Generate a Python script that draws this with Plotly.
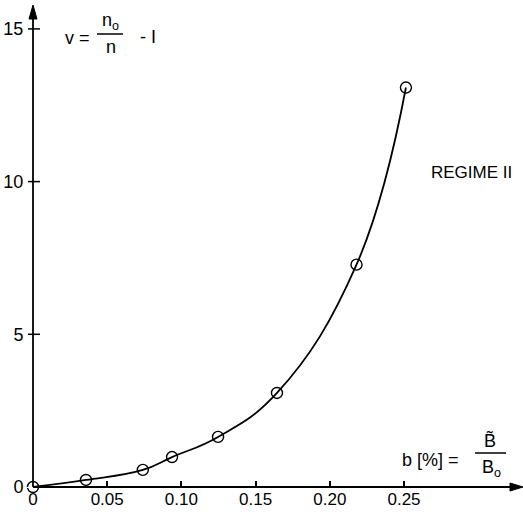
import plotly.graph_objects as go

# data
b_vals = [0.0, 0.0357, 0.074, 0.0937, 0.1247, 0.1644, 0.218, 0.2513]
v_vals = [0.0, 0.23, 0.56, 0.98, 1.64, 3.08, 7.28, 13.08]
x_ticks = [0, 0.05, 0.10, 0.15, 0.20, 0.25]
x_tick_text = ["0", "0.05", "0.10", "0.15", "0.20", "0.25"]
y_ticks = [0, 5, 10, 15]
y_tick_text = ["0", "5", "10", "15"]

W, H = 523, 517
ML, MR, MT, MB = 33, 4, 10, 30
PW, PH = W - ML - MR, H - MT - MB
XPX = 1484.0   # px per unit b
YPX = 30.54    # px per unit v
xmax = PW / XPX
ymax = PH / YPX

def pp(x, y):
    # pixel -> paper coordinates
    return (x - ML) / PW, (H - MB - y) / PH

FONT = "Liberation Sans Narrow, Liberation Sans, Arial"
fig = go.Figure()
fig.add_trace(go.Scatter(
    x=b_vals, y=v_vals, mode="lines+markers",
    line=dict(color="black", width=1.8, shape="spline", smoothing=1.2),
    marker=dict(symbol="circle-open", size=11, color="black", line=dict(width=1.4)),
    showlegend=False, cliponaxis=False))

anns = []
def txt(x, y, s, size=18):
    xx, yy = pp(x, y)
    anns.append(dict(x=xx, y=yy, xref="paper", yref="paper", text=s, showarrow=False,
                     xanchor="center", yanchor="middle",
                     font=dict(family=FONT, size=size, color="black")))

# formula top
txt(77, 38, "v =")
txt(110, 22, "n<sub>o</sub>")
txt(111, 47, "n")
txt(148, 37, "- I")
# formula bottom right
txt(430, 460, "b [%] =")
txt(490, 440, "B&#771;")
txt(491, 468, "B<sub>o</sub>")
txt(471, 173, "REGIME II", size=17)

shapes = []
def seg(xa, ya, xb, yb, w=1.5):
    x0, y0 = pp(xa, ya); x1, y1 = pp(xb, yb)
    shapes.append(dict(type="line", xref="paper", yref="paper", x0=x0, x1=x1, y0=y0, y1=y1,
                       line=dict(color="black", width=w)))
def tri(pts):
    p = [pp(a, b) for a, b in pts]
    path = "M {} {} L {} {} L {} {} Z".format(p[0][0], p[0][1], p[1][0], p[1][1], p[2][0], p[2][1])
    shapes.append(dict(type="path", xref="paper", yref="paper", path=path,
                       fillcolor="black", line=dict(color="black", width=1)))

seg(97, 34, 123, 34)
seg(475, 453, 506, 453)
# axes with arrowheads
seg(33, 487, 512, 487, 1.8)
seg(33, 487, 33, 18, 1.8)
tri([(523, 487), (510, 483), (510, 491)])
tri([(33, 5), (29, 19), (37, 19)])
# y ticks crossing the axis
for yv in y_ticks[1:]:
    ypix = 487 - yv * YPX
    seg(28, ypix, 40, ypix, 1.5)

fig.update_layout(
    width=W, height=H, margin=dict(l=ML, r=MR, t=MT, b=MB),
    paper_bgcolor="white", plot_bgcolor="white",
    annotations=anns, shapes=shapes,
    xaxis=dict(range=[0, xmax], tickvals=x_ticks, ticktext=x_tick_text, showgrid=False,
               zeroline=False, showline=False, ticks="inside", ticklen=6, tickwidth=1.5,
               tickcolor="black", tickfont=dict(family=FONT, size=17, color="black")),
    yaxis=dict(range=[0, ymax], tickvals=y_ticks, ticktext=y_tick_text, showgrid=False,
               zeroline=False, showline=False, ticks="outside", ticklen=5, tickwidth=0,
               tickcolor="white", tickfont=dict(family=FONT, size=18, color="black")),
)
fig.write_html("out.html")
